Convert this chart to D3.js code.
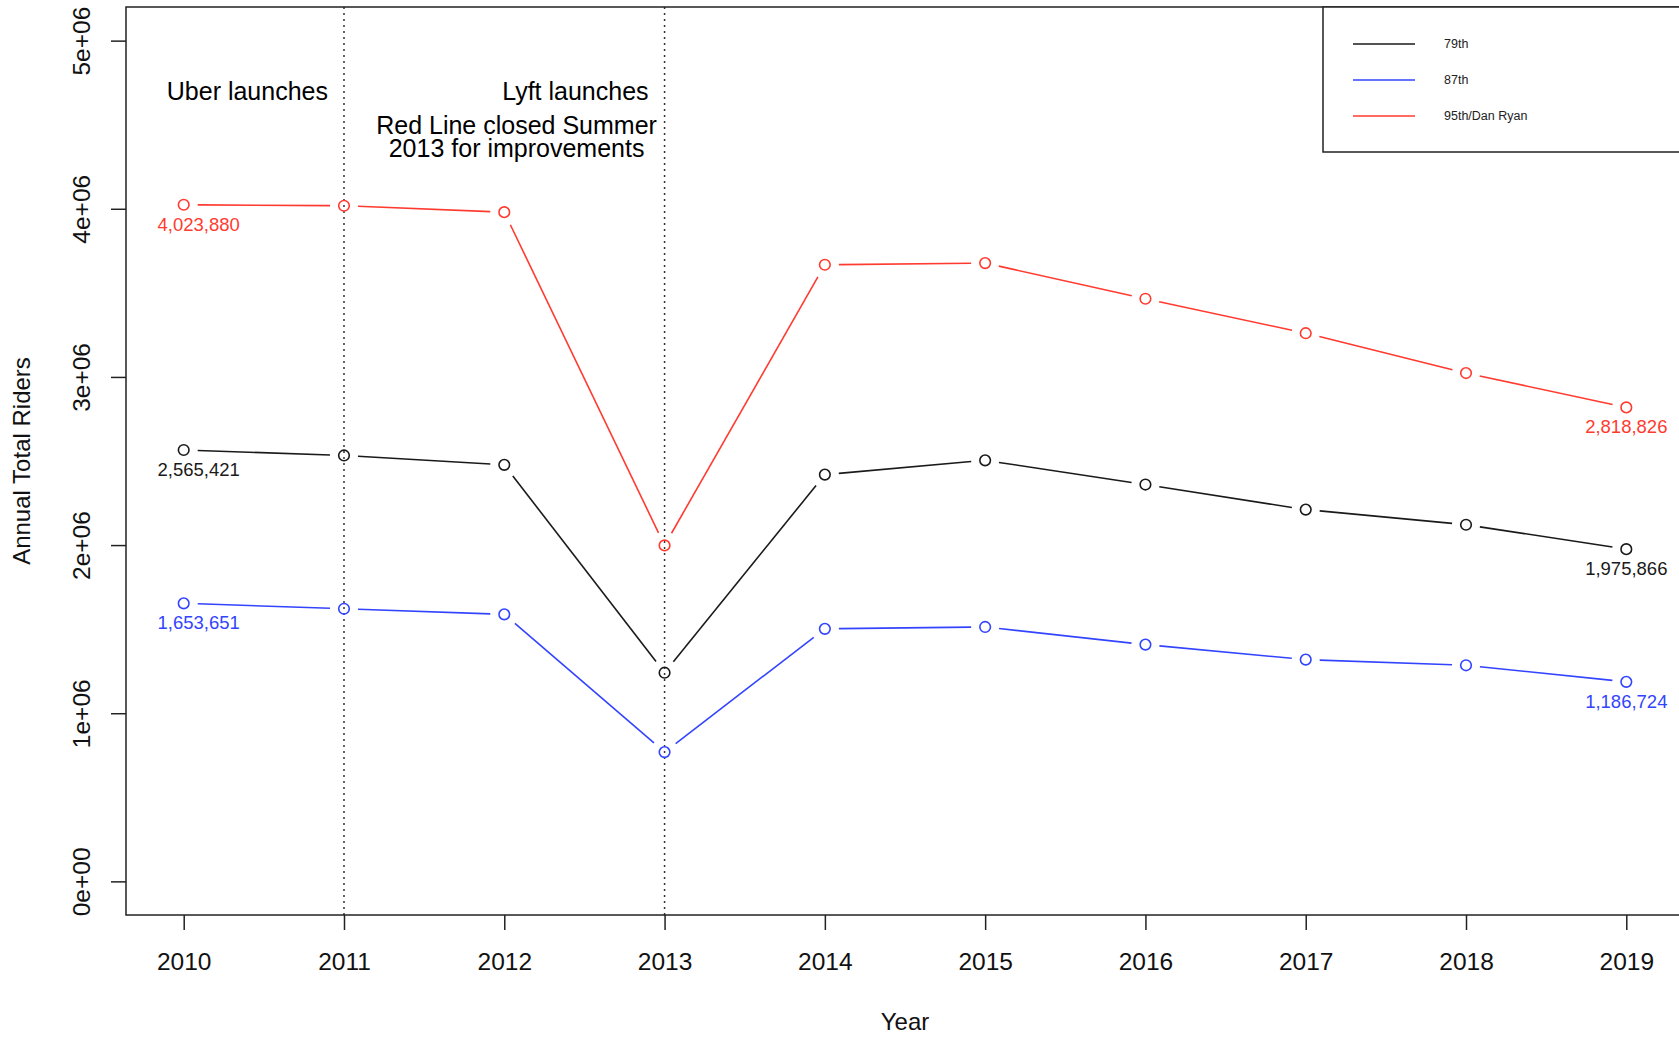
<!DOCTYPE html>
<html>
<head>
<meta charset="utf-8">
<script src="https://cdn.jsdelivr.net/npm/d3@7"></script>
<style>
  body { margin: 0; background: #fff; }
  svg { display: block; font-family: "Liberation Sans", Arial, Helvetica, sans-serif; }
</style>
</head>
<body>
<div id="ridership-chart"></div>
<script>
// Years on the x axis
const years = [2010, 2011, 2012, 2013, 2014, 2015, 2016, 2017, 2018, 2019]

// Annual total riders per station
const riders79th = [2565421, 2533000, 2477000, 1241000, 2419000, 2504000, 2360000, 2211000, 2121000, 1975866]
const riders87th = [1653651, 1621000, 1588000, 769000, 1502000, 1513000, 1408000, 1319000, 1285000, 1186724]
const riders95th = [4023880, 4018000, 3980000, 1998000, 3667000, 3677000, 3465000, 3260000, 3023000, 2818826]

const stationNames = ["79th", "87th", "95th/Dan Ryan"]
const stationColors = ["#1a1a1a", "#3344ff", "#ff3b30"]

const yTickValues = [0, 1e6, 2e6, 3e6, 4e6, 5e6]
const yTickLabels = ["0e+00", "1e+06", "2e+06", "3e+06", "4e+06", "5e+06"]

// Vertical marker years
const markerYears = [2011, 2013]

function drawRidership() {
    const series = stationNames.map((name, i) => ({
        name,
        color: stationColors[i],
        values: years.map((year, j) => ({ year, riders: [riders79th, riders87th, riders95th][i][j] }))
    }))

    // Create accessor functions
    const xAccessor = d => d.year
    const yAccessor = d => d.riders

    // Set dimensions
    const dimensions = {
        width: 1679,
        height: 1037,
        margins: {
            top: 7,
            right: -5,
            left: 126,
            bottom: 122
        }
    }
    dimensions.boundedWidth = dimensions.width
        - dimensions.margins.right
        - dimensions.margins.left
    dimensions.boundedHeight = dimensions.height
        - dimensions.margins.top
        - dimensions.margins.bottom

    // Create wrapper
    const wrapper = d3.select("#ridership-chart").append("svg")
        .attr("width", dimensions.width)
        .attr("height", dimensions.height)

    const bounds = wrapper.append("g")
        .attr("transform", `translate(${dimensions.margins.left}, ${dimensions.margins.top})`)

    // Create scales (R style 4% padding)
    const xScale = d3.scaleLinear()
        .domain([2010 - 0.36, 2019 + 0.36])
        .range([0, dimensions.boundedWidth])

    const yScale = d3.scaleLinear()
        .domain([-0.2e6, 5.2e6])
        .range([dimensions.boundedHeight, 0])

    // Dotted marker lines
    bounds.selectAll(".marker")
        .data(markerYears)
        .join("line")
        .attr("x1", d => xScale(d))
        .attr("x2", d => xScale(d))
        .attr("y1", 0)
        .attr("y2", dimensions.boundedHeight)
        .attr("stroke", "#333")
        .attr("stroke-width", 1.5)
        .attr("stroke-dasharray", "2,4")

    // Lines with gaps round each point (type = "b")
    const gap = 14
    series.forEach(s => {
        const segs = d3.pairs(s.values).map(([a, b]) => {
            const x1 = xScale(xAccessor(a)), y1 = yScale(yAccessor(a))
            const x2 = xScale(xAccessor(b)), y2 = yScale(yAccessor(b))
            const len = Math.hypot(x2 - x1, y2 - y1)
            const ux = (x2 - x1) / len, uy = (y2 - y1) / len
            return [x1 + ux * gap, y1 + uy * gap, x2 - ux * gap, y2 - uy * gap]
        })
        bounds.append("g").selectAll("line")
            .data(segs)
            .join("line")
            .attr("x1", d => d[0])
            .attr("y1", d => d[1])
            .attr("x2", d => d[2])
            .attr("y2", d => d[3])
            .attr("stroke", s.color)
            .attr("stroke-width", 1.6)

        bounds.append("g").selectAll("circle")
            .data(s.values)
            .join("circle")
            .attr("cx", d => xScale(xAccessor(d)))
            .attr("cy", d => yScale(yAccessor(d)))
            .attr("r", 5.3)
            .attr("fill", "none")
            .attr("stroke", s.color)
            .attr("stroke-width", 1.6)

        // first and last values labelled (first one nudged right like the original)
        const ends = [s.values[0], s.values[s.values.length - 1]]
        bounds.append("g").selectAll("text")
            .data(ends)
            .join("text")
            .attr("x", (d, i) => xScale(xAccessor(d)) + (i === 0 ? 15 : 0))
            .attr("y", d => yScale(yAccessor(d)) + 26)
            .attr("text-anchor", "middle")
            .attr("font-size", 18.5)
            .attr("fill", s.color)
            .text(d => d3.format(",")(yAccessor(d)))
    })

    // Annotations
    bounds.append("text")
        .attr("x", xScale(2011) - 16)
        .attr("y", yScale(4.7e6))
        .attr("dy", "0.35em")
        .attr("text-anchor", "end")
        .attr("font-size", 25)
        .text("Uber launches")

    bounds.append("text")
        .attr("x", xScale(2013) - 16)
        .attr("y", yScale(4.7e6))
        .attr("dy", "0.35em")
        .attr("text-anchor", "end")
        .attr("font-size", 25)
        .text("Lyft launches")

    const closure = bounds.append("text")
        .attr("text-anchor", "middle")
        .attr("font-size", 25)
    closure.append("tspan")
        .attr("x", xScale(2013) - 148)
        .attr("y", yScale(4.42e6) - 4)
        .text("Red Line closed Summer")
    closure.append("tspan")
        .attr("x", xScale(2013) - 148)
        .attr("y", yScale(4.42e6) + 19)
        .text("2013 for improvements")

    // Axes
    const xAxisGenerator = d3.axisBottom(xScale)
        .tickValues(years)
        .tickFormat(d3.format("d"))
        .tickSize(15)
        .tickPadding(23)

    const xAxis = bounds.append("g")
        .attr("transform", `translate(0, ${dimensions.boundedHeight})`)
        .call(xAxisGenerator)
    xAxis.select(".domain").remove()
    xAxis.selectAll("line").attr("stroke", "#222").attr("stroke-width", 1.5)
    xAxis.selectAll("text")
        .attr("font-size", 24.5)
        .attr("font-family", "Liberation Sans, Arial, sans-serif")
        .attr("fill", "#111")

    const yAxisGenerator = d3.axisLeft(yScale)
        .tickValues(yTickValues)
        .tickFormat((d, i) => yTickLabels[i])
        .tickSize(15)

    const yAxis = bounds.append("g").call(yAxisGenerator)
    yAxis.select(".domain").remove()
    yAxis.selectAll("line").attr("stroke", "#222").attr("stroke-width", 1.5)
    yAxis.selectAll("text")
        .attr("x", 0)
        .attr("y", -36)
        .attr("dy", 0)
        .attr("transform", "rotate(-90)")
        .attr("text-anchor", "middle")
        .attr("font-size", 24.5)
        .attr("font-family", "Liberation Sans, Arial, sans-serif")
        .attr("fill", "#111")

    // Plot box
    bounds.append("rect")
        .attr("width", dimensions.boundedWidth)
        .attr("height", dimensions.boundedHeight)
        .attr("fill", "none")
        .attr("stroke", "#222")
        .attr("stroke-width", 1.5)

    // Axis titles
    wrapper.append("text")
        .attr("x", dimensions.margins.left + dimensions.boundedWidth / 2)
        .attr("y", 1030)
        .attr("text-anchor", "middle")
        .attr("font-size", 24)
        .attr("fill", "#111")
        .text("Year")

    wrapper.append("text")
        .attr("transform", `translate(30, ${dimensions.margins.top + dimensions.boundedHeight / 2}) rotate(-90)`)
        .attr("text-anchor", "middle")
        .attr("font-size", 24)
        .attr("fill", "#111")
        .text("Annual Total Riders")

    // Legend
    const legend = bounds.append("g")
        .attr("transform", `translate(${1323 - dimensions.margins.left}, 0)`)
    legend.append("rect")
        .attr("width", 400)
        .attr("height", 145)
        .attr("fill", "#fff")
        .attr("stroke", "#222")
        .attr("stroke-width", 1.5)
    const legendItems = legend.selectAll(".item")
        .data(series)
        .join("g")
        .attr("transform", (d, i) => `translate(0, ${37 + i * 36})`)
    legendItems.append("line")
        .attr("x1", 30)
        .attr("x2", 92)
        .attr("stroke", d => d.color)
        .attr("stroke-width", 1.6)
    legendItems.append("text")
        .attr("x", 121)
        .attr("dy", "0.35em")
        .attr("font-size", 12.5)
        .attr("fill", "#222")
        .text(d => d.name)
}

drawRidership()
</script>
</body>
</html>
